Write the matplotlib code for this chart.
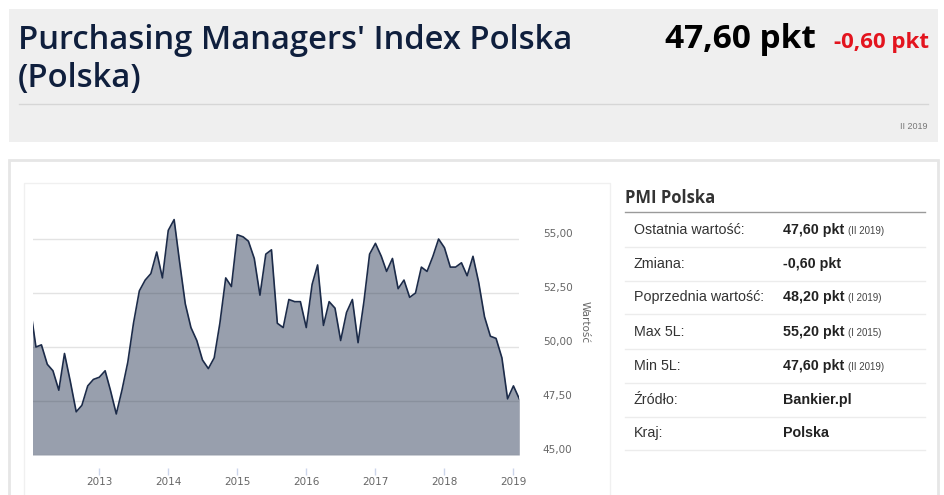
import matplotlib
matplotlib.use("Agg")
import matplotlib.pyplot as plt
from matplotlib.patches import Rectangle
from matplotlib.lines import Line2D
from matplotlib.transforms import ScaledTranslation
import pandas as pd

W, H = 945, 495

# monthly PMI readings, Jan 2012 .. Feb 2019
months = pd.date_range("2012-01-01", "2019-02-01", freq="MS")
pmi = [51.9, 50.0, 50.1, 49.2, 48.9, 48.0, 49.7, 48.4, 47.0, 47.3, 48.2, 48.5,
       48.6, 48.9, 48.0, 46.9, 48.0, 49.3, 51.1, 52.6, 53.1, 53.4, 54.4, 53.2,
       55.4, 55.9, 54.0, 52.0, 50.9, 50.3, 49.4, 49.0, 49.5, 51.1, 53.2, 52.8,
       55.2, 55.1, 54.9, 54.1, 52.4, 54.3, 54.5, 51.1, 50.9, 52.2, 52.1, 52.1,
       50.9, 52.9, 53.8, 51.0, 52.1, 51.8, 50.3, 51.6, 52.2, 50.2, 52.1, 54.3,
       54.8, 54.2, 53.5, 54.1, 52.7, 53.1, 52.3, 52.5, 53.7, 53.5, 54.2, 55.0,
       54.6, 53.7, 53.7, 53.9, 53.3, 54.2, 53.0, 51.4, 50.5, 50.4, 49.5, 47.6,
       48.2, 47.6]

y_ticks = [45, 47.5, 50, 52.5, 55]
y_labels = ["45,00", "47,50", "50,00", "52,50", "55,00"]
years = pd.to_datetime(["2013-01-01", "2014-01-01", "2015-01-01", "2016-01-01",
                        "2017-01-01", "2018-01-01", "2019-01-01"])
year_labels = ["2013", "2014", "2015", "2016", "2017", "2018", "2019"]

title = ["Purchasing Managers' Index Polska", "(Polska)"]
last_value = "47,60 pkt"
change = "-0,60 pkt"
period = "II 2019"

table_labels = ["Ostatnia wartość:", "Zmiana:", "Poprzednia wartość:", "Max 5L:",
                "Min 5L:", "Źródło:", "Kraj:"]
table_values = ["47,60 pkt", "-0,60 pkt", "48,20 pkt", "55,20 pkt", "47,60 pkt",
                "Bankier.pl", "Polska"]
table_notes = ["(II 2019)", "", "(I 2019)", "(I 2015)", "(II 2019)", "", ""]

NAVY = "#1c2b49"


def fx(x):
    return x / W


def fy(y):
    return 1 - y / H


fig = plt.figure(figsize=(W / 100, H / 100), dpi=100)
fig.patch.set_facecolor("white")

# header panel
fig.patches.append(Rectangle((fx(9), fy(142)), fx(929), 133 / H, transform=fig.transFigure,
                             facecolor="#efefef", edgecolor="none", zorder=0))
fig.lines.append(Line2D([fx(19), fx(928)], [fy(104), fy(104)], transform=fig.transFigure,
                        color="#d6d6d6", lw=1))
fig.text(fx(18), fy(49), title[0], fontsize=23.6, family="Open Sans", color="#0f1f3d",
         weight="semibold", va="baseline")
fig.text(fx(18), fy(87), title[1], fontsize=23.6, family="Open Sans", color="#0f1f3d",
         weight="semibold", va="baseline")
fig.text(fx(816), fy(48), last_value, fontsize=24, family="Open Sans", weight="bold",
         color="black", ha="right", va="baseline")
fig.text(fx(929), fy(48), change, fontsize=16, family="Open Sans", weight="bold",
         color="#e3141e", ha="right", va="baseline")
fig.text(fx(928), fy(129), period, fontsize=6.5, color="#777777", ha="right",
         va="baseline", family="Liberation Sans")

# content panels
fig.patches.append(Rectangle((fx(9), fy(520)), fx(929), 360 / H, transform=fig.transFigure,
                             facecolor="white", edgecolor="#e6e6e6", lw=2, zorder=0))
fig.patches.append(Rectangle((fx(24), fy(520)), fx(586), 337 / H, transform=fig.transFigure,
                             facecolor="white", edgecolor="#f0f0f0", lw=1, zorder=0))

# chart
ax_left, ax_right, ax_top, ax_bot = 33.3, 519.3, 190, 455
ax = fig.add_axes([fx(ax_left), fy(ax_bot), (ax_right - ax_left) / W, (ax_bot - ax_top) / H])
ax.set_zorder(5)
ax.set_facecolor("none")
ax.fill_between(months, pmi, 45, color=NAVY, alpha=0.45, lw=0, zorder=2)
ax.plot(months, pmi, color=NAVY, lw=1.2, zorder=3)
ax.set_xlim(pd.Timestamp("2012-01-18"), pd.Timestamp("2019-02-01"))
ax.set_ylim(45, 57.27)
for v in y_ticks:
    ax.axhline(v, color="#e3e3e3", lw=1, zorder=1)
for s in ["top", "left", "right"]:
    ax.spines[s].set_visible(False)
ax.spines["bottom"].set_position(("outward", 9))
ax.spines["bottom"].set_visible(False)
ax.set_xticks(years)
ax.set_xticklabels(year_labels)
ax.tick_params(axis="x", length=5, width=1, color="#ccd6eb", labelsize=7.5,
               labelcolor="#666666", pad=2)
ax.yaxis.tick_right()
ax.set_yticks(y_ticks)
ax.set_yticklabels(y_labels)
ax.tick_params(axis="y", length=0, labelsize=7.5, labelcolor="#666666", pad=17)
shift_up = ScaledTranslation(0, 6 / 100, fig.dpi_scale_trans)
for lbl in ax.get_yticklabels():
    lbl.set_transform(lbl.get_transform() + shift_up)
ax.yaxis.set_label_position("right")
ax.set_ylabel("Wartość", rotation=270, fontsize=7.5, color="#666666", labelpad=12)

# side table
fig.text(fx(625), fy(203), "PMI Polska", fontsize=12, weight="bold", color="#333333",
         family="Open Sans", va="baseline")
fig.lines.append(Line2D([fx(625), fx(925)], [fy(212), fy(212)], transform=fig.transFigure,
                        color="#9a9a9a", lw=1))
row_y = [230, 264, 297, 332, 366, 400, 433]
for i, (lab, val, note) in enumerate(zip(table_labels, table_values, table_notes)):
    y = row_y[i]
    fig.text(fx(634), fy(y), lab, fontsize=10.3, color="#333333", family="Liberation Sans",
             va="center")
    fig.text(fx(783), fy(y), val, fontsize=10.3, color="#222222", weight="bold",
             family="Liberation Sans", va="center")
    if note:
        fig.text(fx(848), fy(y + 1), note, fontsize=7, color="#444444",
                 family="Liberation Sans", va="center")
    fig.lines.append(Line2D([fx(625), fx(925)], [fy(y + 17), fy(y + 17)],
                            transform=fig.transFigure, color="#ececec", lw=1))

fig.savefig("out.png", dpi=100)
